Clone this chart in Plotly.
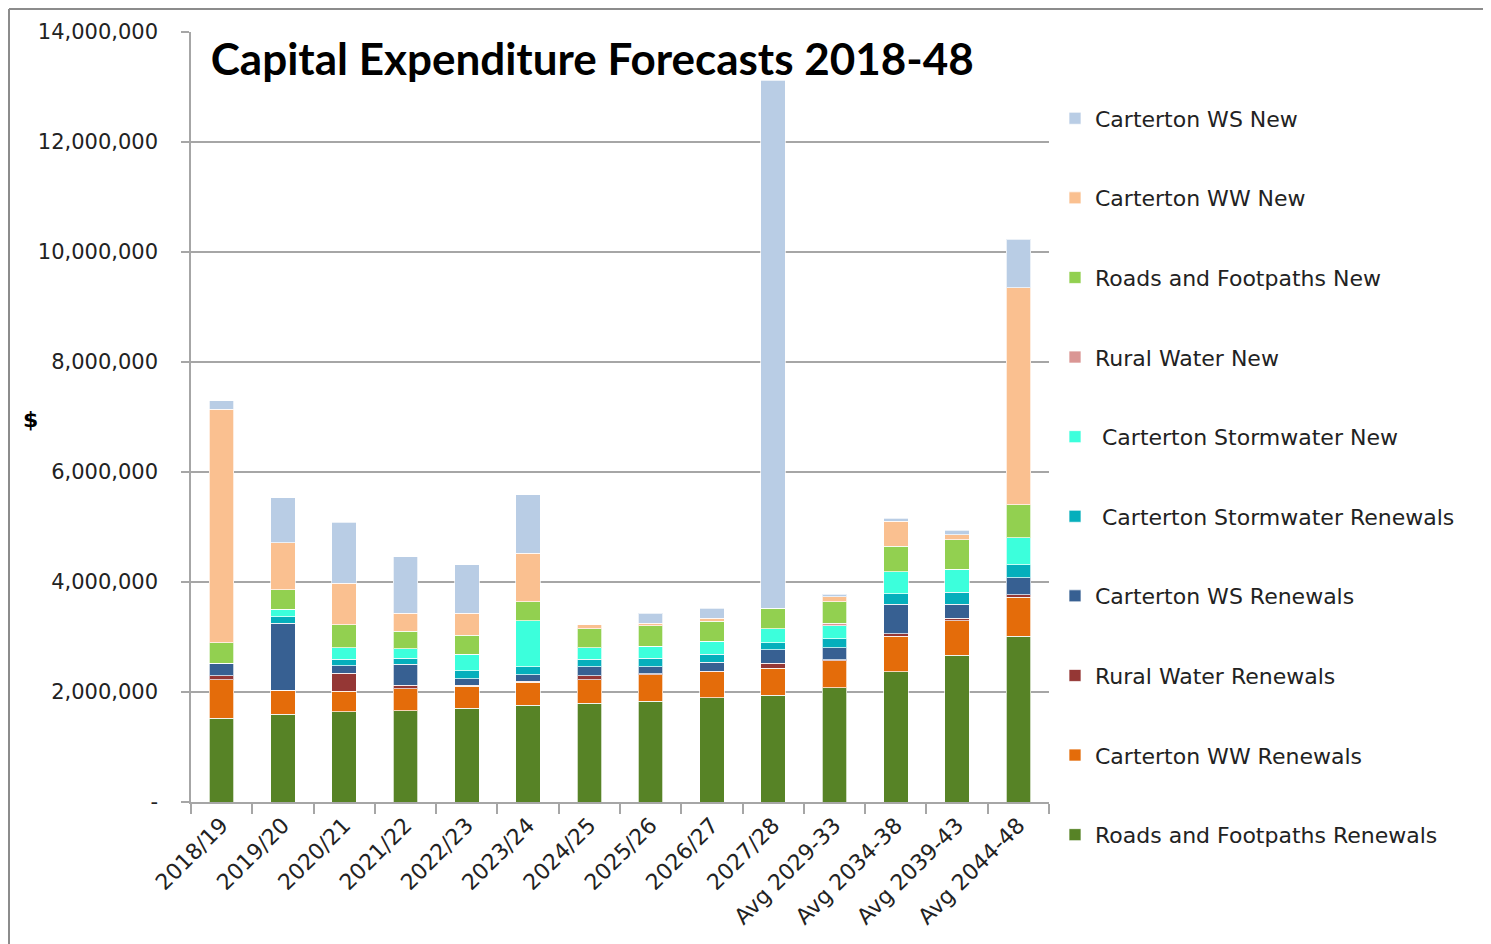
import plotly.graph_objects as go

categories = ["2018/19", "2019/20", "2020/21", "2021/22", "2022/23", "2023/24", "2024/25",
              "2025/26", "2026/27", "2027/28", "Avg 2029-33", "Avg 2034-38", "Avg 2039-43", "Avg 2044-48"]

# values in $
rf_ren = [1527000, 1595000, 1642000, 1660000, 1709000, 1758000, 1800000, 1831000, 1897000, 1940000, 2078000, 2364000, 2667000, 3010000]
ww_ren = [697000, 441000, 371000, 395000, 395000, 418000, 424000, 484000, 467000, 491000, 486000, 654000, 629000, 714000]
rw_ren = [73000, 0, 327000, 72000, 15000, 20000, 72000, 15000, 15000, 91000, 18000, 37000, 44000, 47000]
ws_ren = [225000, 1213000, 138000, 376000, 123000, 119000, 159000, 125000, 166000, 242000, 223000, 545000, 260000, 303000]
sw_ren = [0, 115000, 122000, 115000, 146000, 140000, 139000, 163000, 146000, 132000, 164000, 182000, 213000, 236000]
sw_new = [0, 140000, 205000, 164000, 303000, 842000, 211000, 213000, 231000, 255000, 236000, 400000, 418000, 491000]
rw_new = [0, 0, 0, 0, 0, 0, 0, 0, 0, 0, 44000, 0, 0, 0]
rf_new = [375000, 351000, 419000, 327000, 345000, 345000, 346000, 374000, 369000, 376000, 393000, 467000, 533000, 606000]
ww_new = [4244000, 860000, 752000, 327000, 395000, 885000, 73000, 44000, 49000, 0, 91000, 460000, 91000, 3940000]
ws_new = [156000, 818000, 1109000, 1024000, 884000, 1055000, 0, 182000, 181000, 9600000, 43000, 49000, 90000, 889000]

y_tickvals = [0, 2000000, 4000000, 6000000, 8000000, 10000000, 12000000, 14000000]
y_ticktext = ["-", "2,000,000", "4,000,000", "6,000,000", "8,000,000", "10,000,000", "12,000,000", "14,000,000"]

series = [
    ("Roads and Footpaths Renewals", rf_ren, "#578326"),
    ("Carterton WW Renewals", ww_ren, "#E46C0A"),
    ("Rural Water Renewals", rw_ren, "#953735"),
    ("Carterton WS Renewals", ws_ren, "#376092"),
    (" Carterton Stormwater Renewals", sw_ren, "#05AFBC"),
    (" Carterton Stormwater New", sw_new, "#3CFFDC"),
    ("Rural Water New", rw_new, "#DA9694"),
    ("Roads and Footpaths New", rf_new, "#92D050"),
    ("Carterton WW New", ww_new, "#FAC090"),
    ("Carterton WS New", ws_new, "#B9CDE5"),
]

fig = go.Figure()
for i, (name, vals, color) in enumerate(series):
    fig.add_trace(go.Bar(
        x=categories, y=vals, name=name, legendgroup=name, legendrank=1000 - i,
        marker=dict(color=color, line=dict(color="rgba(255,255,255,0.7)", width=1)),
    ))

# the page body adds an 8px offset; plot area lands at x 190..1048, y 32..802 on the page
ML, MT, PW, PH = 183, 24, 858, 770

GRAY = "#A6A6A6"
fig.update_layout(
    barmode="stack",
    bargap=0.6,
    width=1491, height=944,
    margin=dict(l=ML, r=1491 - ML - PW, t=MT, b=944 - MT - PH),
    paper_bgcolor="white", plot_bgcolor="white",
    font=dict(family="DejaVu Sans", size=20, color="#222222"),
    title=dict(text="<b>Capital Expenditure Forecasts 2018-48</b>",
               font=dict(family="Lato", size=44, color="black"),
               xref="paper", x=0.023, xanchor="left",
               yref="container", y=1 - 52 / 944, yanchor="middle"),
    xaxis=dict(type="category", tickangle=-45, showline=True, linecolor=GRAY, linewidth=1.5,
               ticks="outside", tickson="boundaries", ticklen=10, tickcolor=GRAY, tickwidth=1.5,
               tickfont=dict(family="DejaVu Sans", size=22, color="#222222"),
               range=[-0.5, 13.5]),
    yaxis=dict(range=[0, 14000000], tickvals=y_tickvals, ticktext=y_ticktext,
               showline=True, linecolor=GRAY, linewidth=1.5,
               ticks="outside", ticklen=8, tickcolor=GRAY, tickwidth=1.5,
               ticklabelstandoff=19,
               showgrid=True, gridcolor=GRAY, gridwidth=1.5, zeroline=False,
               tickfont=dict(family="DejaVu Sans", size=21, color="#222222")),
    legend=dict(traceorder="grouped", tracegroupgap=48, maxheight=1.0,
                x=1.007, xanchor="left", y=0.915, yanchor="top",
                font=dict(family="DejaVu Sans", size=22, color="#222222"),
                itemclick=False),
    showlegend=True,
)

fig.add_annotation(text="<b>$</b>", xref="paper", yref="paper", x=(22 - ML) / PW, y=(794 - 412) / PH,
                   xanchor="center", yanchor="middle",
                   showarrow=False, font=dict(family="DejaVu Sans", size=22, color="black"))

# outer chart frame (left and top edges)
fx = (1 - ML) / PW
fy = (MT + PH - 1) / PH
fig.add_shape(type="line", xref="paper", yref="paper", x0=fx, x1=fx,
              y0=-(944 - MT - PH) / PH, y1=fy, line=dict(color="#8C8C8C", width=2))
fig.add_shape(type="line", xref="paper", yref="paper", x0=fx, x1=(1491 - ML) / PW,
              y0=fy, y1=fy, line=dict(color="#8C8C8C", width=2))

fig.write_html("out.html")
